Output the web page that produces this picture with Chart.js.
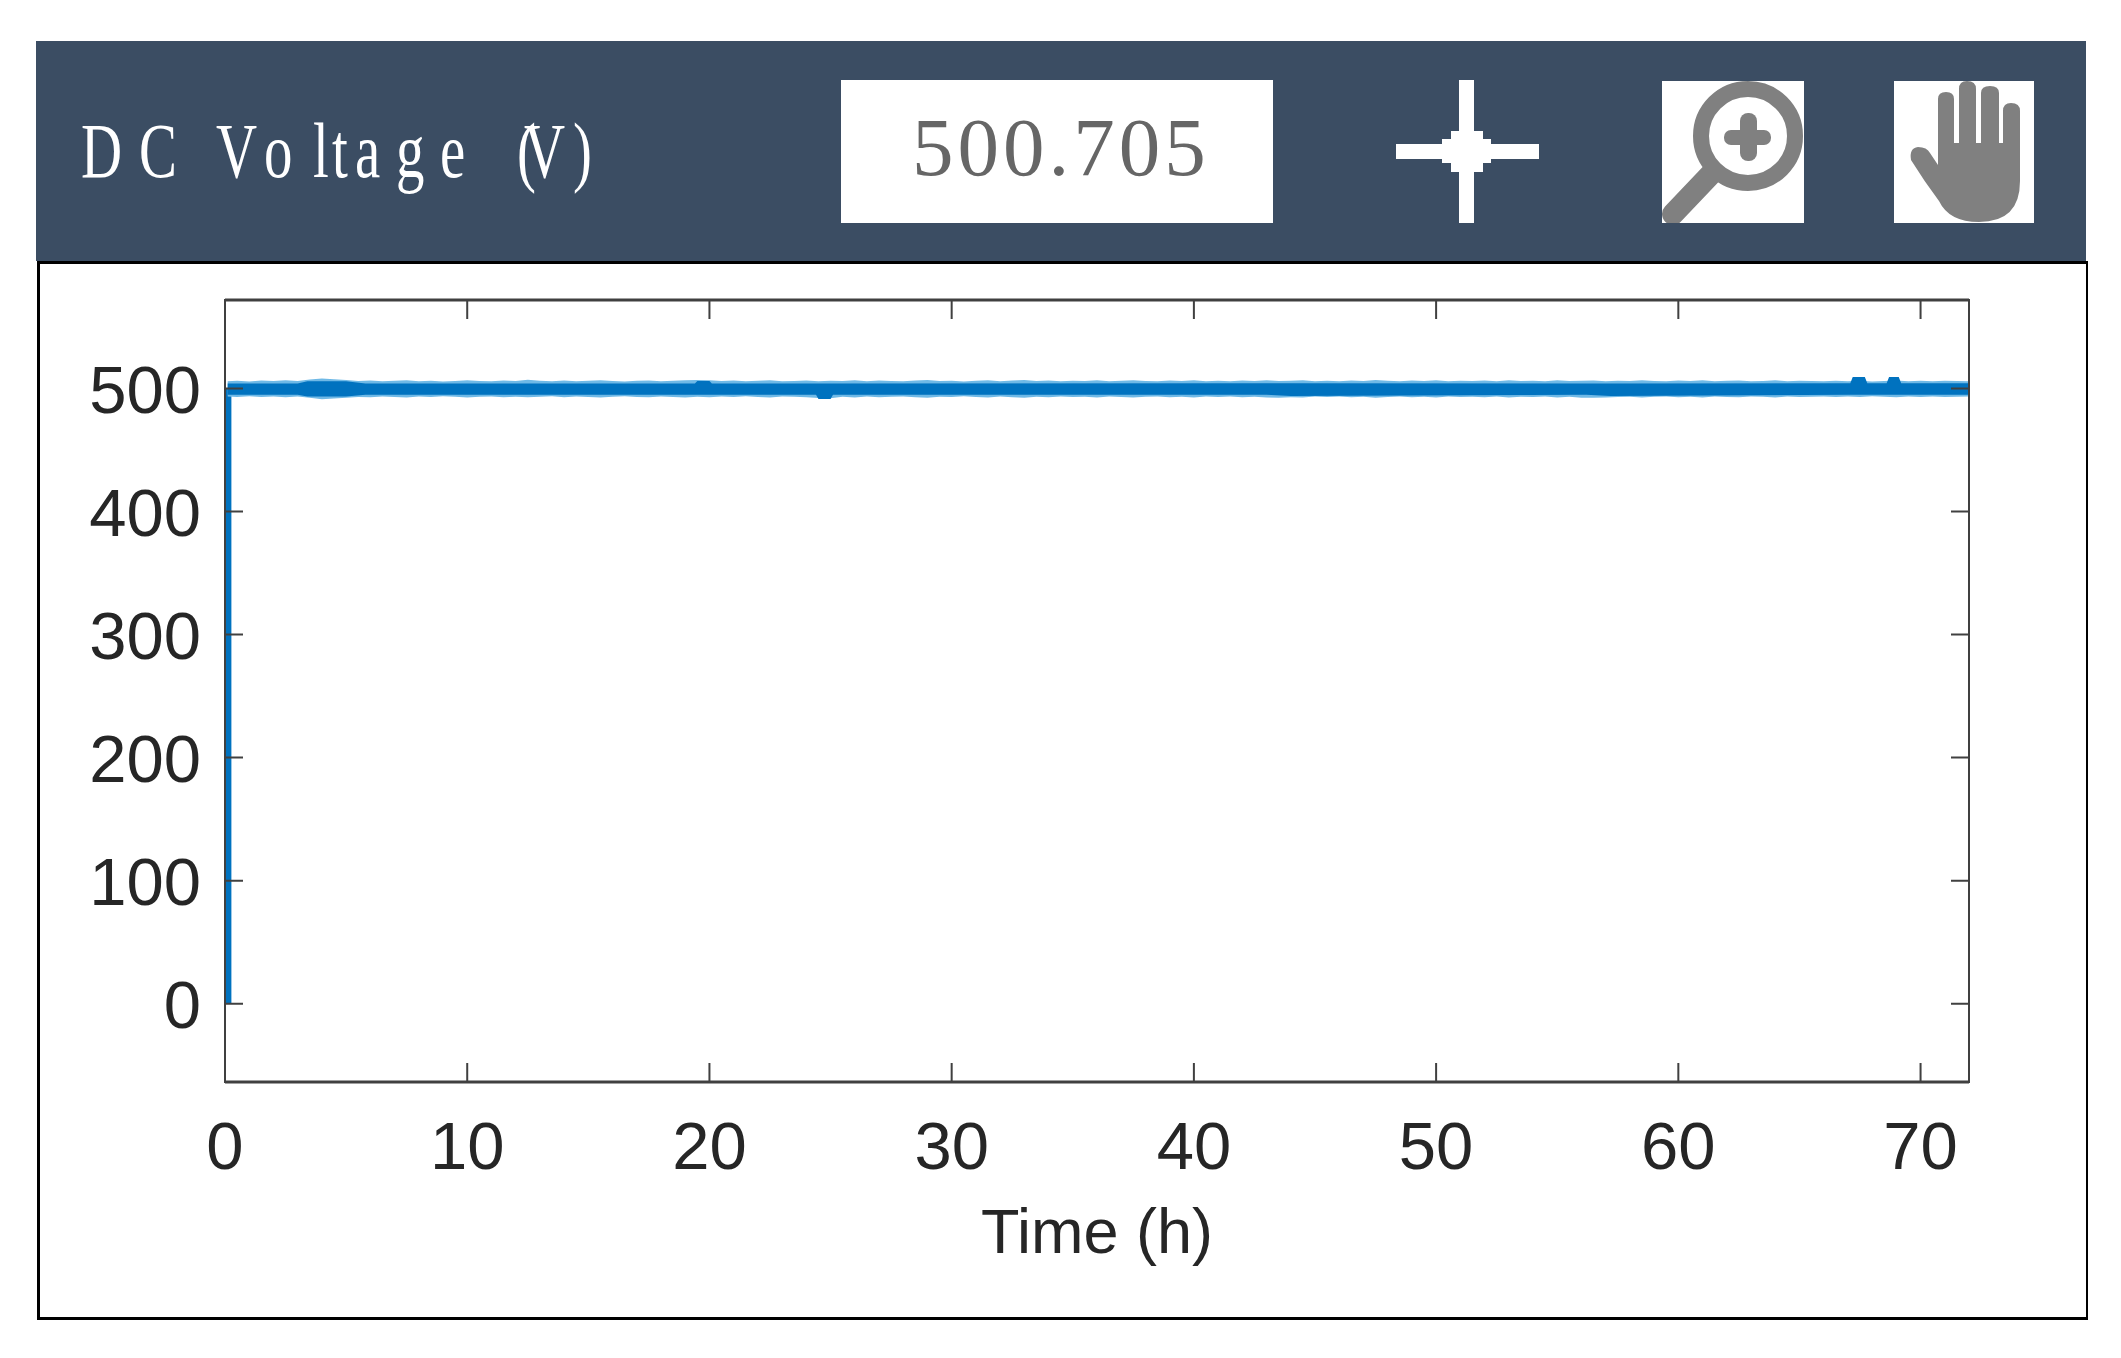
<!DOCTYPE html>
<html>
<head>
<meta charset="utf-8">
<title>DC Voltage</title>
<script src="https://cdn.jsdelivr.net/npm/chart.js@4.4.1/dist/chart.umd.min.js"></script>
<style>
  html, body { margin: 0; padding: 0; background: #fff; }
  #wrap { position: relative; width: 2121px; height: 1358px; overflow: hidden; }
  #chart { position: absolute; left: 0; top: 0; }
  #panel { position: absolute; left: 37px; top: 261px; width: 2046px; height: 1053px;
           border: solid #000; border-width: 3px 2px 3px 3px; }
  #banner { position: absolute; left: 0; top: 0; }
</style>
</head>
<body>
<div id="wrap">
  <canvas id="chart" width="2121" height="1358"></canvas>
  <div id="panel"></div>
  <svg id="banner" width="2121" height="262" font-family="'Liberation Serif', serif">
    <rect x="36" y="41" width="2050" height="220" fill="#3b4d63"/>
    <text id="titleText" y="177" font-size="79" fill="#fff" transform="scale(0.72,1)"></text>
    <rect x="841" y="80" width="432" height="143" fill="#fff"/>
    <text id="valueText" x="912" y="175" font-size="83" letter-spacing="4" fill="#666"></text>
    <!-- crosshair -->
    <g fill="#fff">
      <rect x="1459" y="80" width="15" height="143"/>
      <rect x="1396" y="144" width="143" height="15"/>
      <rect x="1451" y="131" width="32" height="41"/>
      <rect x="1442" y="139" width="49" height="24"/>
    </g>
    <!-- zoom icon -->
    <svg x="1662" y="81" width="142" height="142">
      <rect width="142" height="142" fill="#fff"/>
      <circle cx="86" cy="55" r="47" fill="none" stroke="#808080" stroke-width="16"/>
      <line x1="50" y1="92" x2="11" y2="133" stroke="#808080" stroke-width="22" stroke-linecap="round"/>
      <rect x="78" y="32" width="17" height="48" rx="8" fill="#808080"/>
      <rect x="62" y="49" width="47" height="15" rx="7" fill="#808080"/>
    </svg>
    <!-- pan icon -->
    <svg x="1894" y="81" width="140" height="142">
      <rect width="140" height="142" fill="#fff"/>
      <path fill="#808080" d="M44 84 L44 18 Q44 11 52 11 Q60 11 60 18 L60 62 L65 62 L65 8 Q65 0 73 0 Q82 0 82 8 L82 62 L87 62 L87 12 Q87 5 96 5 Q105 5 105 12 L105 62 L109 62 L109 30 Q109 22 117 22 Q126 22 126 30 L126 100 Q126 141 85 141 Q55 141 45 120 Q30 100 17 79 Q15 67 24 66 Q33 66 36 72 Z"/>
    </svg>
  </svg>
</div>
<script>
// header readout
const titleGlyphs = "DCVoltage(V)";
const titleEdges = [81, 139, 216, 264, 313, 332, 355, 396, 440, 517, 524, 573];
const readout = "500.705";

// axes
const xTicks = [0, 10, 20, 30, 40, 50, 60, 70];
const yTicks = [0, 100, 200, 300, 400, 500];
const xLabel = "Time (h)";

// rise at switch-on
const rampTimes = [0.14, 0.14];
const rampVolts = [0, 500];

// solid part of the trace
const coreTimes = [0.1, 3, 3.4, 5, 5.8, 19.4, 19.5, 20, 20.1, 24.4, 24.5, 25, 25.1, 43, 44, 56.2, 57.2, 67.1, 67.2, 67.7, 67.8, 68.6, 68.7, 69.1, 69.2, 72];
const coreTop = [504.2, 504.2, 506, 506, 504.2, 504.2, 506.2, 506.2, 504.2, 504.2, 504.2, 504.2, 504.2, 504.4, 504.4, 504.2, 504.2, 504.4, 509.4, 509.4, 504.4, 504.4, 509.4, 509.4, 504.4, 504.4];
const coreBottom = [495, 495, 493.6, 493.6, 495, 495, 495, 495, 495, 495, 491.6, 491.6, 495, 495, 494, 495, 494, 495, 495, 495, 495, 495, 495, 495, 495, 495];

// pale noise around the trace, one reading every half hour
const noiseTimes = [0.1, 0.5, 1, 1.5, 2, 2.5, 3, 3.5, 4, 4.5, 5, 5.5, 6, 6.5, 7, 7.5, 8, 8.5, 9, 9.5, 10, 10.5, 11, 11.5, 12, 12.5, 13, 13.5, 14, 14.5, 15, 15.5, 16, 16.5, 17, 17.5, 18, 18.5, 19, 19.5, 20, 20.5, 21, 21.5, 22, 22.5, 23, 23.5, 24, 24.5, 25, 25.5, 26, 26.5, 27, 27.5, 28, 28.5, 29, 29.5, 30, 30.5, 31, 31.5, 32, 32.5, 33, 33.5, 34, 34.5, 35, 35.5, 36, 36.5, 37, 37.5, 38, 38.5, 39, 39.5, 40, 40.5, 41, 41.5, 42, 42.5, 43, 43.5, 44, 44.5, 45, 45.5, 46, 46.5, 47, 47.5, 48, 48.5, 49, 49.5, 50, 50.5, 51, 51.5, 52, 52.5, 53, 53.5, 54, 54.5, 55, 55.5, 56, 56.5, 57, 57.5, 58, 58.5, 59, 59.5, 60, 60.5, 61, 61.5, 62, 62.5, 63, 63.5, 64, 64.5, 65, 65.5, 66, 66.5, 67, 67.5, 68, 68.5, 69, 69.5, 70, 70.5, 71, 71.5, 72];
const noiseUpper = [506, 506.4, 505.8, 506.5, 506.1, 506.7, 506.2, 507.3, 508.2, 507.6, 507, 506.2, 506.6, 505.9, 506.3, 506.7, 506, 506.4, 505.8, 506.2, 506.8, 506.1, 505.9, 506.5, 506.2, 507.1, 506.3, 506, 506.6, 505.9, 506.4, 506.7, 506.1, 505.8, 506.3, 506.6, 506, 506.4, 506.7, 507, 506.8, 506.2, 506.5, 505.9, 506.3, 506.7, 506, 506.2, 506.6, 505.9, 506.4, 506.1, 506.8, 506, 506.5, 506.2, 505.9, 506.6, 506.9, 506.1, 506.4, 505.8, 506.3, 506.7, 506, 506.5, 507, 506.2, 506.6, 505.9, 506.4, 506.1, 506.7, 506, 506.3, 506.8, 506.1, 505.9, 506.5, 506.2, 506.7, 506, 506.4, 505.9, 506.6, 506.2, 506.8, 506.1, 506.4, 506.7, 506, 506.3, 505.9, 506.6, 506.1, 506.9, 506.3, 506, 506.5, 506.2, 506.7, 505.9, 506.4, 506.1, 506.6, 506, 506.8, 506.2, 506.4, 505.9, 506.7, 506.1, 506.3, 506.6, 506, 506.4, 506.1, 506.8, 506.2, 505.9, 506.5, 506.1, 506.7, 506, 506.3, 506.6, 505.9, 506.2, 506.7, 506, 506.4, 506.1, 505.9, 506.3, 506, 506.4, 505.8, 506.2, 506.6, 506, 506.3, 505.9, 506.4, 506.1, 505.9];
const noiseLower = [493.6, 493.2, 493.8, 493.1, 493.6, 493, 493.5, 492.6, 491.4, 491.9, 492.5, 493.2, 492.9, 493.6, 493.2, 492.8, 493.5, 493.1, 493.7, 493.3, 492.7, 493.4, 493.6, 493, 493.3, 492.9, 493.4, 493.7, 493, 493.5, 493.1, 492.8, 493.4, 493.7, 493.2, 492.9, 493.5, 493.1, 492.8, 493.4, 493, 493.5, 493.1, 493.7, 493.2, 492.8, 493.5, 493.3, 492.9, 492.4, 492.2, 493.3, 492.8, 493.5, 493, 493.3, 493.6, 492.9, 492.6, 493.4, 493.1, 493.7, 493.2, 492.8, 493.5, 493, 492.6, 493.3, 492.9, 493.6, 493.1, 493.4, 492.8, 493.5, 493.2, 492.7, 493.4, 493.6, 493, 493.3, 492.8, 493.5, 493.1, 493.6, 492.9, 493.3, 492.7, 492.6, 493, 492.8, 493.5, 493.2, 493.6, 492.9, 493.4, 492.6, 493.2, 493.5, 493, 493.3, 492.8, 493.6, 493.1, 493.4, 492.9, 493.5, 492.7, 493.3, 493.1, 493.6, 492.8, 493.4, 492.6, 492.5, 492.8, 493.1, 493.4, 492.7, 493.3, 493.6, 493, 493.4, 492.8, 493.5, 493.2, 492.9, 493.6, 493.3, 492.8, 493.5, 493.1, 493.4, 493.6, 493.2, 493.5, 493.1, 493.7, 493.3, 492.9, 493.5, 493.2, 493.6, 493.1, 493.4, 493.6];

const toPoints = (xs, ys) => xs.map((x, i) => ({ x, y: ys[i] }));

// header text
const titleNode = document.getElementById("titleText");
titleNode.textContent = titleGlyphs;
titleNode.setAttribute("x", titleEdges.map(x => (x / 0.72).toFixed(1)).join(" "));
document.getElementById("valueText").textContent = readout;

const TRACE = "#0072bf";
const NOISE = "#6fb9e6";
const INK = "#262626";
const AXIS = "#404040";
const TICK_FONT = { family: "'Liberation Sans', Arial, sans-serif", size: 67 };
const LABEL_FONT = { family: "'Liberation Sans', Arial, sans-serif", size: 63 };

// box around the plot with MATLAB style inward ticks on all four sides
const boxTicks = {
  id: "boxTicks",
  afterDatasetsDraw(chart) {
    const { ctx, chartArea: a, scales } = chart;
    ctx.save();
    ctx.strokeStyle = AXIS;
    ctx.lineWidth = 2;
    ctx.strokeRect(a.left, a.top, a.right - a.left, a.bottom - a.top);
    ctx.beginPath();
    xTicks.forEach(v => {
      const px = scales.x.getPixelForValue(v);
      ctx.moveTo(px, a.top); ctx.lineTo(px, a.top + 19);
      ctx.moveTo(px, a.bottom); ctx.lineTo(px, a.bottom - 19);
    });
    yTicks.forEach(v => {
      const py = scales.y.getPixelForValue(v);
      ctx.moveTo(a.left, py); ctx.lineTo(a.left + 18, py);
      ctx.moveTo(a.right, py); ctx.lineTo(a.right - 18, py);
    });
    ctx.stroke();
    // top and bottom edges are a bit heavier in the source
    ctx.lineWidth = 3;
    ctx.beginPath();
    ctx.moveTo(a.left, a.top); ctx.lineTo(a.right, a.top);
    ctx.moveTo(a.left, a.bottom); ctx.lineTo(a.right, a.bottom);
    ctx.stroke();
    ctx.restore();
  }
};

const band = (data, extra) => ({
  data, pointRadius: 0, tension: 0, borderWidth: 0, ...extra
});

new Chart(document.getElementById("chart"), {
  type: "line",
  plugins: [boxTicks],
  data: {
    datasets: [
      band(toPoints(coreTimes, coreTop), { fill: "+1", backgroundColor: TRACE, borderColor: TRACE }),
      band(toPoints(coreTimes, coreBottom), { fill: false, borderColor: TRACE }),
      band(toPoints(noiseTimes, noiseUpper), { fill: "+1", backgroundColor: NOISE, borderColor: NOISE }),
      band(toPoints(noiseTimes, noiseLower), { fill: false, borderColor: NOISE }),
      band(toPoints(rampTimes, rampVolts), { fill: false, borderColor: TRACE, borderWidth: 6 })
    ]
  },
  options: {
    responsive: false,
    animation: false,
    devicePixelRatio: 1,
    layout: { padding: { left: 0, right: 152, top: 300, bottom: 85 } },
    plugins: { legend: { display: false }, tooltip: { enabled: false } },
    scales: {
      x: {
        type: "linear",
        min: 0,
        max: 72,
        afterBuildTicks: s => { s.ticks = xTicks.map(value => ({ value })); },
        afterFit: s => { s.height = 191; },
        grid: { display: false },
        border: { display: false },
        ticks: { color: INK, font: TICK_FONT, padding: 20, maxRotation: 0, autoSkip: false },
        title: { display: true, text: xLabel, color: INK, font: LABEL_FONT, padding: { top: 0, bottom: 0 } }
      },
      y: {
        min: -63.7,
        max: 572,
        afterBuildTicks: s => { s.ticks = yTicks.map(value => ({ value })); },
        afterFit: s => { s.width = 225; },
        grid: { display: false },
        border: { display: false },
        ticks: { color: INK, font: TICK_FONT, padding: 16, labelOffset: 6, autoSkip: false }
      }
    }
  }
});
</script>
</body>
</html>
